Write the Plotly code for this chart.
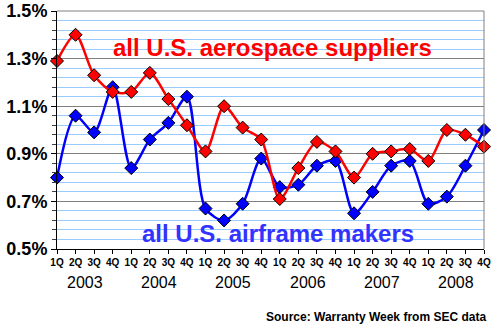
import plotly.graph_objects as go

# Quarterly warranty accrual rates, % of sales
quarters = ["1Q", "2Q", "3Q", "4Q"] * 6
years = ["2003", "2004", "2005", "2006", "2007", "2008"]
aerospace_suppliers = [1.29, 1.40, 1.23, 1.16, 1.16, 1.24, 1.13, 1.02,
                       0.91, 1.10, 1.01, 0.96, 0.71, 0.84, 0.95, 0.91,
                       0.80, 0.90, 0.91, 0.92, 0.87, 1.00, 0.98, 0.93]
airframe_makers = [0.80, 1.06, 0.99, 1.18, 0.84, 0.96, 1.03, 1.14,
                   0.67, 0.62, 0.69, 0.88, 0.76, 0.77, 0.85, 0.87,
                   0.65, 0.74, 0.85, 0.87, 0.69, 0.72, 0.85, 1.00]
y_ticks = [0.5, 0.7, 0.9, 1.1, 1.3, 1.5]

idx = list(range(len(quarters)))
FONT = "Liberation Sans, Arial, sans-serif"

fig = go.Figure()
for vals, col in [(airframe_makers, "#0000FF"), (aerospace_suppliers, "#FF0000")]:
    fig.add_trace(go.Scatter(
        x=idx, y=vals, mode="lines+markers",
        line=dict(color=col, width=2.5, shape="spline", smoothing=0.8),
        marker=dict(symbol="diamond", size=10, color=col,
                    line=dict(color="black", width=1)),
        cliponaxis=False, showlegend=False,
    ))

fig.update_layout(
    width=500, height=329,
    margin=dict(l=57, r=16, t=11, b=80, autoexpand=False),
    paper_bgcolor="white", plot_bgcolor="white",
    font=dict(family=FONT, color="black"),
)
fig.update_xaxes(
    range=[0, len(quarters) - 1], automargin=False,
    tickvals=idx, ticktext=quarters,
    tickfont=dict(size=10, family=FONT, weight="bold"),
    showgrid=False, zeroline=False,
    showline=True, linecolor="black", linewidth=1,
    ticks="outside", ticklen=4, tickcolor="black",
)
fig.update_yaxes(
    range=[0.5, 1.5], automargin=False,
    tickvals=y_ticks, ticktext=[f"{v:.1f}%" for v in y_ticks],
    tickfont=dict(size=18, family=FONT, weight="bold"),
    showgrid=True, gridcolor="#808080", gridwidth=1,
    zeroline=False,
    showline=True, linecolor="black", linewidth=1,
    ticks="outside", ticklen=5, tickcolor="black",
    minor=dict(tick0=0.5, dtick=0.04, showgrid=True, gridcolor="#99CCFF",
               gridwidth=1, ticks="outside", ticklen=4, tickcolor="#404040"),
)

# top and right frame
fig.add_shape(type="line", xref="paper", yref="paper", x0=0, x1=1, y0=1, y1=1,
              line=dict(color="#808080", width=1))
fig.add_shape(type="line", xref="paper", yref="paper", x0=1, x1=1, y0=0, y1=1,
              line=dict(color="#808080", width=1))

# year labels under each group of four quarters
for k, yr in enumerate(years):
    fig.add_annotation(x=4 * k + 1.5, y=0, xref="x", yref="paper",
                       yanchor="middle", yshift=-33, text=yr, showarrow=False,
                       font=dict(size=16, family=FONT, color="black"))

fig.add_annotation(x=11.6, y=1.345, text="all U.S. aerospace suppliers",
                   showarrow=False,
                   font=dict(size=24, family=FONT, color="#FF0000", weight="bold"))
fig.add_annotation(x=11.9, y=0.567, text="all U.S. airframe makers",
                   showarrow=False,
                   font=dict(size=24, family=FONT, color="#3333FF", weight="bold"))

fig.add_annotation(x=1, y=0, xref="paper", yref="paper", xanchor="right",
                   yanchor="middle", xshift=4, yshift=-68,
                   text="Source: Warranty Week from SEC data", showarrow=False,
                   font=dict(size=12, family=FONT, color="black", weight="bold"))

fig.write_html("out.html")
